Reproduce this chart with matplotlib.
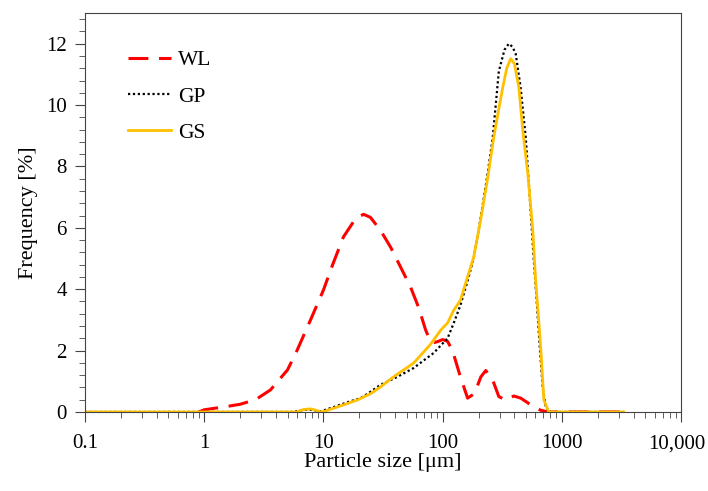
import matplotlib
matplotlib.use("Agg")
import matplotlib.pyplot as plt
import matplotlib.transforms as mtransforms
from matplotlib.ticker import FixedLocator, FixedFormatter, MultipleLocator, LogLocator, NullFormatter

plt.rcParams['font.family'] = ['Liberation Serif', 'DejaVu Serif']

# WL (red dashed)
wl_x = [0.9, 1, 1.5, 2, 2.7, 3.6, 5, 6, 7.8, 10, 11.9, 14.7, 18.6, 21.7, 24.8, 30.1, 36.6, 44.4, 53.8,
        62.8, 72, 79, 85, 92, 100, 110, 121, 141, 162, 185, 209, 230, 263, 296, 338, 395, 452, 550, 660, 760, 3300]
wl_y = [0, 0.07, 0.17, 0.25, 0.4, 0.72, 1.37, 2.0, 3.0, 3.97, 4.78, 5.7, 6.3, 6.44, 6.34, 5.92, 5.37, 4.72, 4.07,
        3.41, 2.67, 2.3, 2.26, 2.3, 2.36, 2.3, 2.0, 1.14, 0.45, 0.6, 1.14, 1.35, 1.04, 0.5, 0.39, 0.52, 0.45, 0.23, 0.06, 0, 0]

# GP (black dotted)
gp_x = [0.1, 5.5, 6.5, 7.5, 8.5, 9.5, 12, 16, 20.5, 23.6, 30, 42, 57, 84, 110, 124, 141, 160, 182, 208,
        239, 263, 296, 330, 359, 385, 410, 450, 498, 540, 580, 615, 650, 690, 730, 780, 3300]
gp_y = [0, 0, 0.05, 0.08, 0.05, 0.02, 0.15, 0.32, 0.45, 0.6, 0.88, 1.15, 1.43, 1.92, 2.4, 2.9, 3.48, 4.2, 5.0, 6.3,
        7.8, 8.94, 11.1, 11.8, 12.0, 11.9, 11.67, 10.6, 8.94, 6.9, 5.0, 3.6, 2.2, 0.8, 0.2, 0, 0]

# GS (orange solid)
gs_x = [0.1, 6.0, 6.8, 7.8, 8.6, 9.5, 10.2, 14, 19.3, 25, 30, 38.6, 57, 79, 96.5, 110, 124, 141, 156, 182,
        208, 239, 268, 300, 319, 345, 372, 400, 436, 470, 518, 570, 603, 630, 667, 706, 777, 3300]
gs_y = [0, 0, 0.08, 0.1, 0.06, 0, 0.02, 0.2, 0.39, 0.6, 0.81, 1.14, 1.59, 2.2, 2.67, 2.9, 3.32, 3.64, 4.2, 5.04,
        6.24, 7.64, 8.94, 10.0, 10.57, 11.2, 11.51, 11.35, 10.57, 9.17, 7.77, 5.92, 4.25, 3.32, 2.0, 0.39, 0, 0]

x_ticks = [0.1, 1, 10, 100, 1000, 10000]
x_labels = ["0.1", "1", "10", "100", "1000", "10,000"]

fig = plt.figure(figsize=(7.08, 4.91), dpi=100)
ax = fig.add_axes([0.12, 0.161, 0.842, 0.8125])

ax.plot(wl_x, wl_y, color='#FF0000', lw=2.2, ls=(0, (6.5, 3.5)), label='WL')
ax.plot(gp_x, gp_y, color='black', lw=1.6, ls=(0, (1, 1.2)), label='GP')
ax.plot(gs_x, gs_y, color='#FFC000', lw=2.0, label='GS')

ax.set_xscale('log')
ax.set_xlim(0.1, 10000)
ax.set_ylim(0, 13)

ax.xaxis.set_major_locator(FixedLocator(x_ticks))
ax.xaxis.set_major_formatter(FixedFormatter(x_labels))
ax.xaxis.set_minor_locator(LogLocator(base=10, subs=range(2, 10), numticks=20))
ax.xaxis.set_minor_formatter(NullFormatter())
ax.yaxis.set_major_locator(MultipleLocator(2))
ax.yaxis.set_minor_locator(MultipleLocator(0.4))

ax.tick_params(which='both', direction='out', labelsize=15, color='#444444')
ax.tick_params(which='major', length=7)
ax.tick_params(which='minor', length=4.5)
ax.tick_params(axis='x', pad=9)
ax.tick_params(axis='y', pad=6)
for s in ax.spines.values():
    s.set_color('#444444')

# pull the last x label slightly in so it stays inside the image
last = ax.get_xticklabels()[-1]
last.set_transform(last.get_transform() + mtransforms.ScaledTranslation(-4 / 100, 0, fig.dpi_scale_trans))

ax.set_xlabel('Particle size [μm]', fontsize=16, labelpad=0)
ax.set_ylabel('Frequency [%]', fontsize=16, labelpad=6)

ax.legend(loc='upper left', frameon=False, fontsize=15.5, handlelength=2.0,
          bbox_to_anchor=(0.04, 0.955), labelspacing=0.75, handletextpad=0.3)

fig.savefig('out.png', dpi=100)
